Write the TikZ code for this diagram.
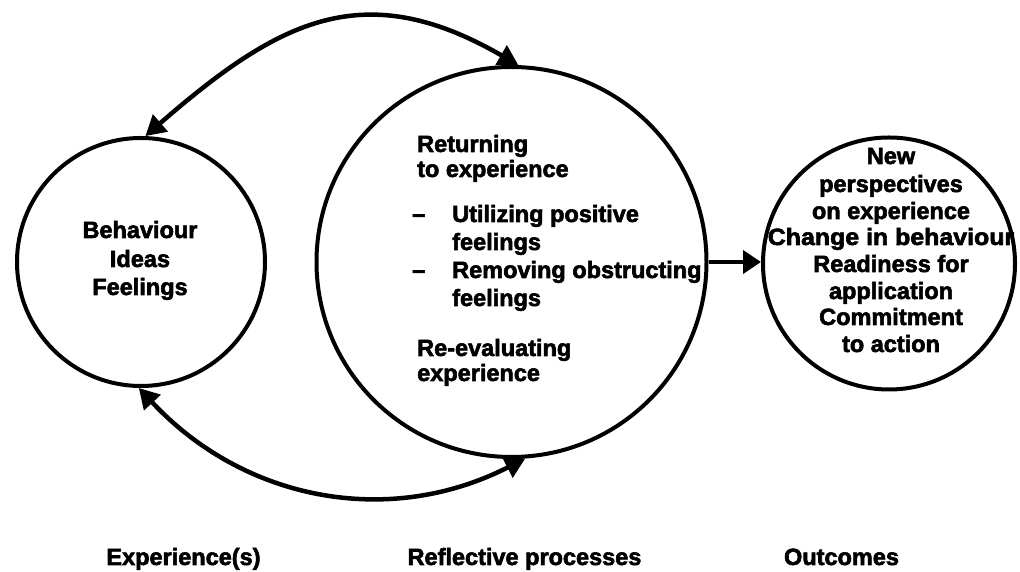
\documentclass[tikz,border=0pt]{standalone}
\usepackage{fontspec}
\setmainfont{Liberation Sans}[BoldFeatures={FakeBold=2.5}]
\usetikzlibrary{arrows.meta}
\begin{document}
\begin{tikzpicture}[x=1pt,y=1pt,
  ring/.style={circle, draw=black, line width=4pt, inner sep=0pt},
  lbl/.style={font=\fontsize{23.5}{27}\selectfont\bfseries, inner sep=0pt, anchor=base},
  lblw/.style={lbl, anchor=base west},
  link/.style={line width=4.5pt, {Triangle[length=20pt,width=22pt]}-{Triangle[length=20pt,width=22pt]}},
  flow/.style={line width=4pt, -{Triangle[length=18pt,width=23pt]}}]
\fill[white] (0,0) rectangle (1020,572);
\useasboundingbox (0,0) rectangle (1020,572);

% circles
\node[ring, minimum size=248pt] (L) at (141,310) {};
\node[ring, minimum size=390pt] (M) at (511.5,310) {};
\node[ring, minimum size=252pt] (R) at (889,308.5) {};

% connectors
\draw[link] (L.88) to[out=41,in=150,looseness=1.2] (M.88);
\draw[link] (L.269) to[out=-47,in=-153] (M.274);
\draw[flow] (M.east) -- (M.east -| R.west);

% left circle text
\node[lbl] (l1) at (140,334) {Behaviour};
\node[lbl] (l2) at (140,305) {Ideas};
\node[lbl] (l3) at (140,277) {Feelings};

% middle circle text
\node[lblw] (m1) at (417,420) {Returning};
\node[lblw] (m2) at (417,395) {to experience};
\node[lblw] (d1) at (412,350) {–};
\node[lblw] (m3) at (452,350) {Utilizing positive};
\node[lblw] (m4) at (452,322) {feelings};
\node[lblw] (d2) at (412,294) {–};
\node[lblw] (m5) at (452,294) {Removing obstructing};
\node[lblw] (m6) at (452,266) {feelings};
\node[lblw] (m7) at (417,216) {Re-evaluating};
\node[lblw] (m8) at (417,191) {experience};

% right circle text
\node[lbl] (o1) at (891,408) {New};
\node[lbl] (o2) at (891,380) {perspectives};
\node[lbl] (o3) at (891,353) {on experience};
\node[lbl] (o4) at (891,327) {\scalebox{1.06}[1]{Change in behaviour}};
\node[lbl] (o5) at (891,300) {Readiness for};
\node[lbl] (o6) at (891,273) {application};
\node[lbl] (o7) at (891,247) {Commitment};
\node[lbl] (o8) at (891,220) {to action};

% column labels
\node[lbl] (c1) at (183.5,7) {Experience(s)};
\node[lbl] (c2) at (524.5,7) {Reflective processes};
\node[lbl] (c3) at (841.5,7) {Outcomes};
\end{tikzpicture}
\end{document}
